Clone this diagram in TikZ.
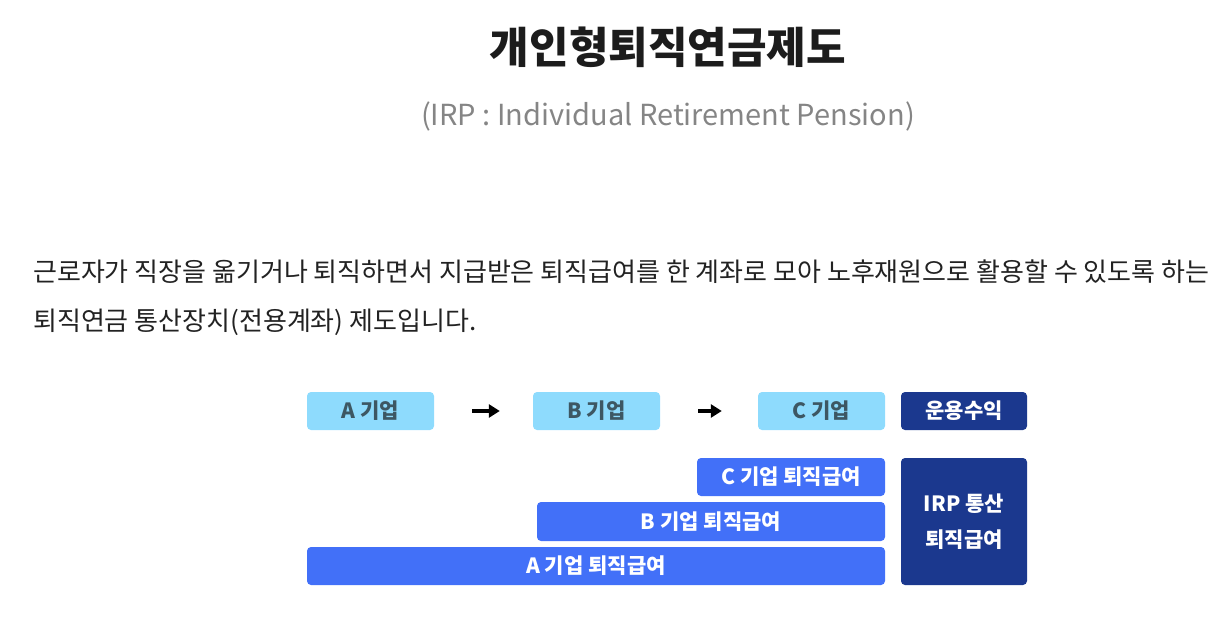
\documentclass[tikz,border=0pt]{standalone}
\usepackage{fontspec}
\setmainfont{Noto Sans CJK KR}
\usetikzlibrary{arrows.meta}
\definecolor{lightbox}{HTML}{8EDBFD}
\definecolor{lighttext}{HTML}{3D5763}
\definecolor{bluebox}{HTML}{4270F8}
\definecolor{navybox}{HTML}{1B388E}
\definecolor{titlecol}{HTML}{1C1C1C}
\definecolor{subcol}{HTML}{858585}
\definecolor{bodycol}{HTML}{222222}
\tikzset{
  box/.style={rounded corners=4pt, inner sep=0pt, font=\fontsize{21}{23}\selectfont\bfseries},
  lightb/.style={box, fill=lightbox, text=lighttext, minimum width=127pt, minimum height=38pt},
  blueb/.style={box, fill=bluebox, text=white, minimum height=38pt},
  navyb/.style={box, fill=navybox, text=white, minimum width=126pt},
  flowarrow/.style={-{Triangle[length=11pt,width=13pt]}, line width=3.5pt, black}
}
\begin{document}
\begin{tikzpicture}[x=1pt,y=-1pt]
\useasboundingbox (0,0) rectangle (1224,624);
\node[font=\fontsize{43}{46}\selectfont\bfseries, text=titlecol] (title) at (668,47) {개인형퇴직연금제도};
\node[font=\fontsize{29}{31}\selectfont, text=subcol] (sub) at (668,116) {(IRP : Individual Retirement Pension)};
\node[anchor=west, inner sep=0pt, font=\fontsize{26}{28}\selectfont, text=bodycol] (l1) at (33,272) {근로자가 직장을 옮기거나 퇴직하면서 지급받은 퇴직급여를 한 계좌로 모아 노후재원으로 활용할 수 있도록 하는};
\node[anchor=west, inner sep=0pt, font=\fontsize{26}{28}\selectfont, text=bodycol] (l2) at (33,322) {퇴직연금 통산장치(전용계좌) 제도입니다.};

\node[lightb] (a) at (370.5,411) {A 기업};
\node[lightb] (b) at (596.5,411) {B 기업};
\node[lightb] (c) at (821.5,411) {C 기업};
\node[navyb, minimum height=38pt] (yield) at (964,411) {운용수익};

\draw[flowarrow, shorten <=38pt, shorten >=33pt] (a.east) -- (b.west);
\draw[flowarrow, shorten <=38pt, shorten >=36pt] (b.east) -- (c.west);

\node[blueb, minimum width=188pt] (cr) at (791,477) {C 기업 퇴직급여};
\node[blueb, minimum width=348pt, minimum height=39pt] (br) at (711,521.5) {B 기업 퇴직급여};
\node[blueb, minimum width=578pt] (ar) at (596,566) {A 기업 퇴직급여};
\node[navyb, minimum height=127pt, align=center, font=\fontsize{21}{36}\selectfont\bfseries] (irp) at (964,521.5) {IRP 통산\\퇴직급여};
\end{tikzpicture}
\end{document}
